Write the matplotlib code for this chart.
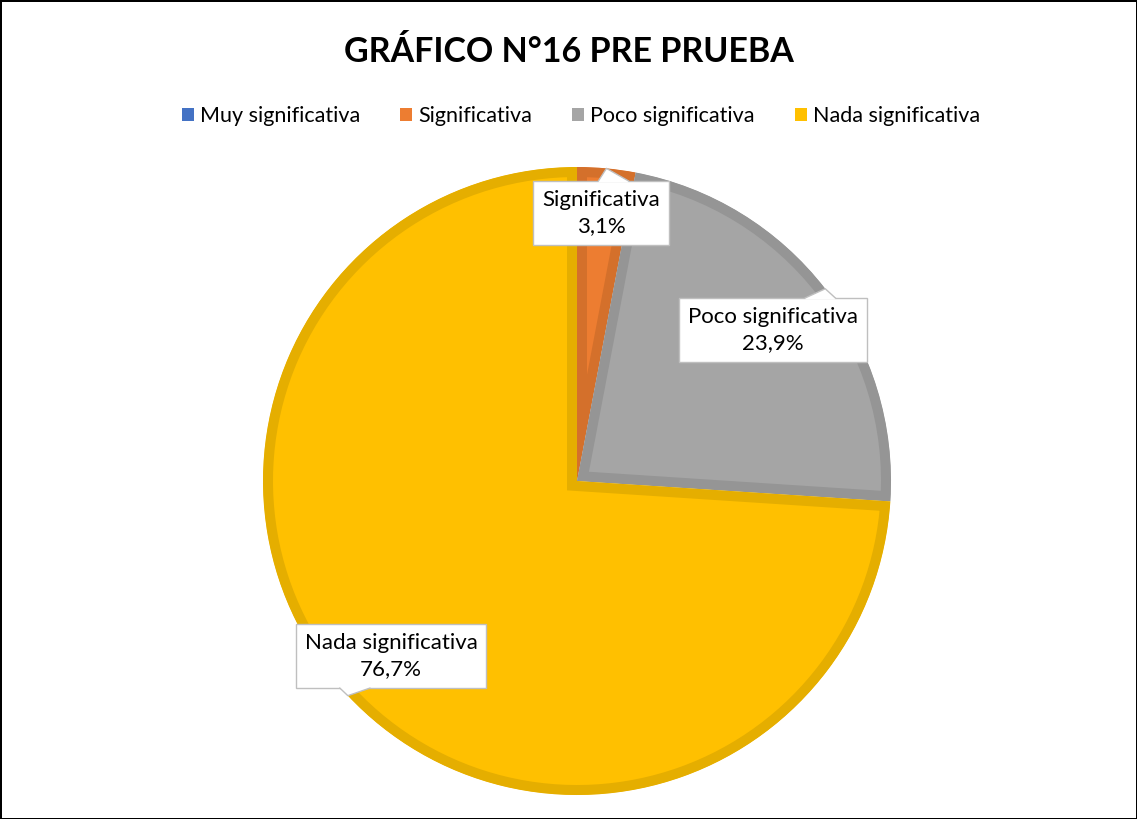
import numpy as np
import matplotlib.pyplot as plt
from matplotlib.patches import Patch, Polygon

categories = ["Muy significativa", "Significativa", "Poco significativa", "Nada significativa"]
values = [0.0, 3.1, 23.9, 76.7]
pct_text = ["0,0%", "3,1%", "23,9%", "76,7%"]
colors = ["#4472C4", "#ED7D31", "#A5A5A5", "#FFC000"]
edge_colors = ["#3A62A8", "#D4702B", "#959595", "#E5AE00"]

plt.rcParams['font.family'] = ['Lato', 'DejaVu Sans']

W, H = 1137, 819
fig = plt.figure(figsize=(W / 100, H / 100), dpi=100)
fig.patch.set_edgecolor('black')
fig.patch.set_linewidth(2)
ax = fig.add_axes([0, 0, 1, 1])

cx, cy, r = 577, H - 481, 314
wedges, _ = ax.pie(values, colors=colors, startangle=90, counterclock=False,
                   center=(cx, cy), radius=r)
for w, ec in zip(wedges, edge_colors):
    # stroke only inside the slice, like the original
    w.set_edgecolor(ec)
    w.set_linewidth(14.4)
    w.set_clip_on(True)
    w.set_clip_path(w)

ax.set_xlim(0, W)
ax.set_ylim(0, H)
ax.axis('off')

# data labels (callouts)
label_pos = {1: (601, H - 213), 2: (773, H - 330), 3: (391, H - 656)}
texts = {}
for i, (x, y) in label_pos.items():
    texts[i] = ax.text(x, y, categories[i] + "\n" + pct_text[i], ha='center', va='center',
                       fontsize=16, color='#000000', linespacing=1.4, zorder=5,
                       bbox=dict(boxstyle='square,pad=0.4', fc='white', ec='#BFBFBF', lw=1))

fig.canvas.draw()
# little pointer from each box to the middle of its slice's arc
# (axes spans the whole figure with pixel limits, so display px == data units)
for i, t in texts.items():
    w = wedges[i]
    mid = np.deg2rad((w.theta1 + w.theta2) / 2)
    tx = w.center[0] + w.r * np.cos(mid)
    ty = w.center[1] + w.r * np.sin(mid)
    bb = t.get_bbox_patch().get_window_extent()
    if ty > bb.y1:
        edge, inward = bb.y1, -1.5
    else:
        edge, inward = bb.y0, 1.5
    x0 = tx - 8
    if x0 + 30 > bb.x1 - 30:
        x0 = tx - 20
    x0 = max(x0, bb.x0 + 2)
    x1 = x0 + 30
    ax.add_patch(Polygon([(x0, edge + inward), (x0, edge), (tx, ty), (x1, edge),
                          (x1, edge + inward)], closed=True, fc='white', ec='none',
                         zorder=6))
    ax.plot([x0, tx, x1], [edge, ty, edge], color='#BFBFBF', lw=1, zorder=6.5)

fig.text(0.5, 1 - 52 / H, "GRÁFICO N°16 PRE PRUEBA", ha='center', va='center',
         fontsize=24.5, fontweight='bold', color='#000000')

handles = [Patch(facecolor=c) for c in colors]
fig.legend(handles, categories, loc='center', bbox_to_anchor=(0.511, 1 - 116 / H),
           ncol=4, frameon=False, fontsize=15.5, handlelength=0.55, handleheight=0.55,
           handletextpad=0.3, columnspacing=1.85)

fig.savefig('out.png', dpi=100)
